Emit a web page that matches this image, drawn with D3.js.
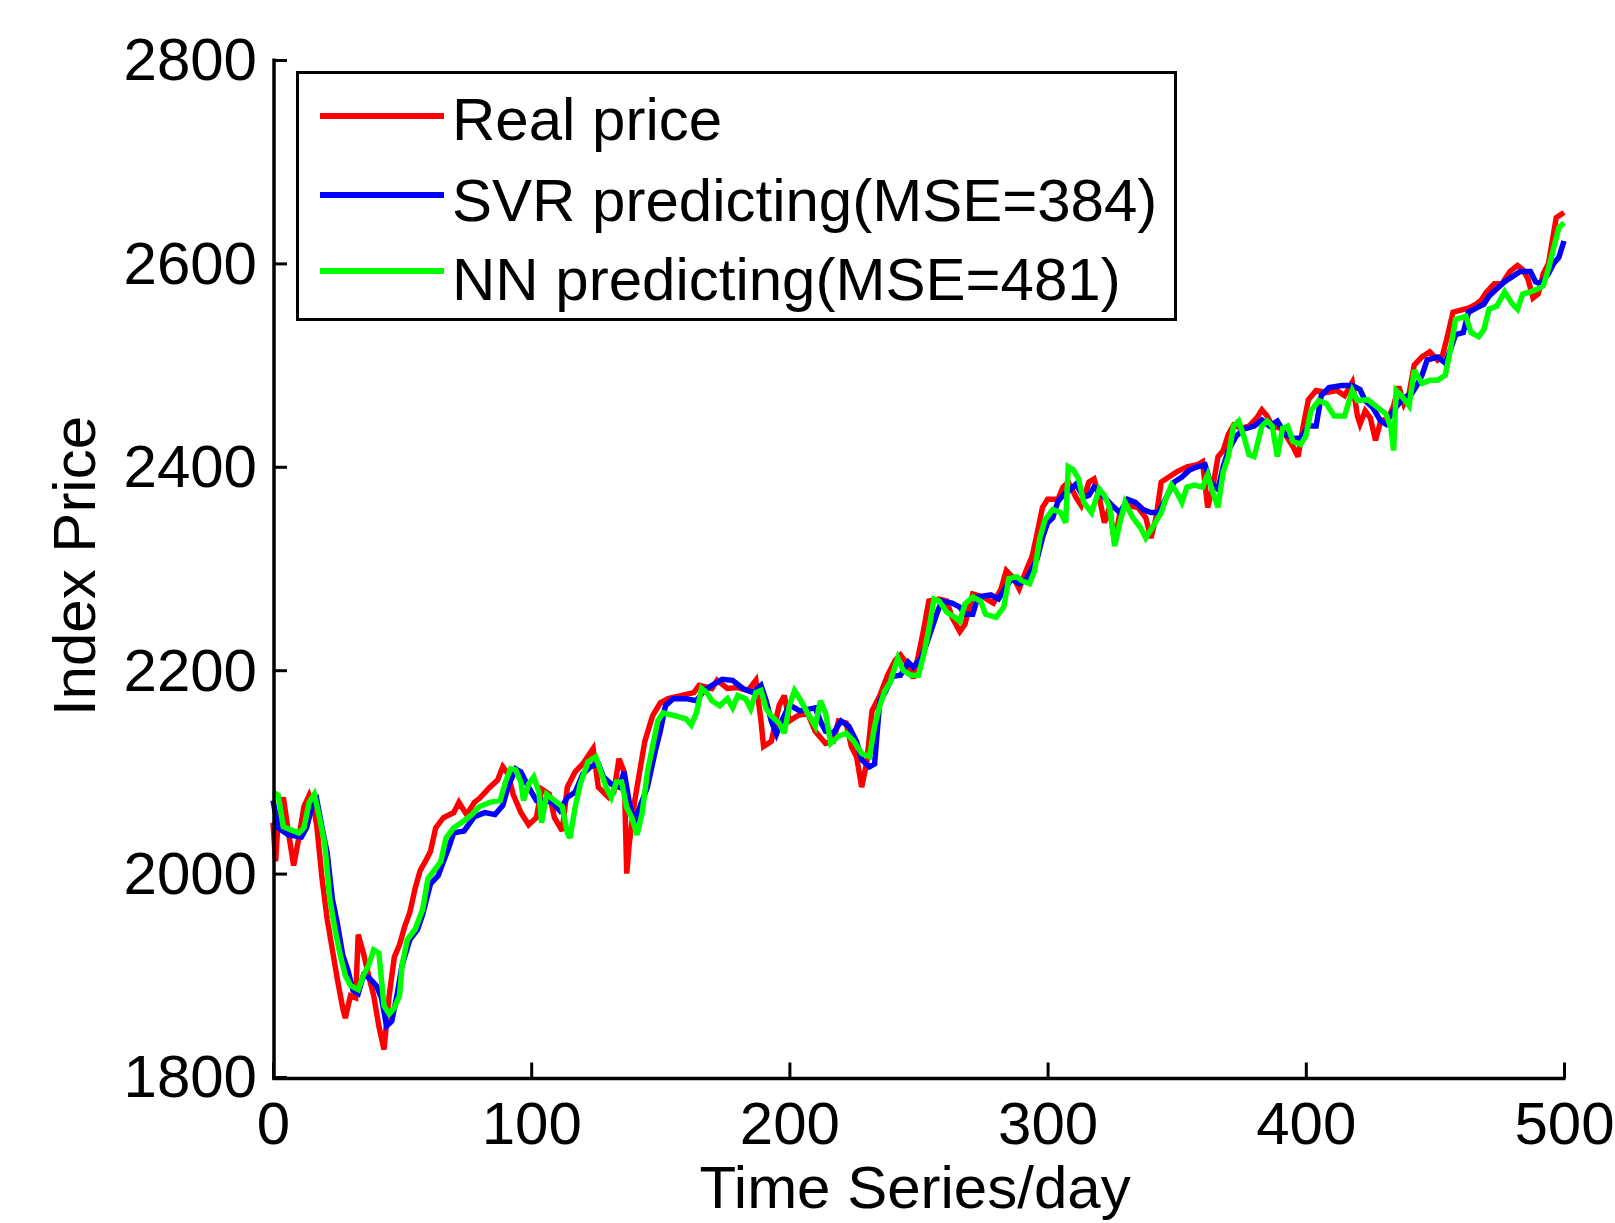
<!DOCTYPE html>
<html><head><meta charset="utf-8">
<script src="https://cdn.jsdelivr.net/npm/d3@7/dist/d3.min.js"></script>
<style>
html,body{margin:0;padding:0;background:#fff;}
svg text{font-family:"Liberation Sans",Arial,Helvetica,sans-serif;fill:#000;}
</style></head>
<body><svg id="chart" width="1615" height="1223"></svg>
<script>
// ---- data ----
const xTicks = [0, 100, 200, 300, 400, 500];
const yTicks = [1800, 2000, 2200, 2400, 2600, 2800];
const seriesNames = ["Real price", "SVR predicting(MSE=384)", "NN predicting(MSE=481)"];
const seriesColors = ["#ff0000", "#0000ff", "#00ff00"];

const realDays = [0,1,2,4,6,8,10,12,14,16,17,19,21,23,25,27,28,30,32,33,35,37,39,41,43,45,47,49,51,53,55,57,59,61,63,66,70,72,75,78,80,84,87,89,91,93,96,99,102,104,107,109,112,114,117,120,124,126,130,132,134,136,137,138,140,142,144,147,150,153,158,163,165,170,172,176,180,184,187,189,190,193,196,198,200,203,207,210,214,217,219,222,224,226,228,230,232,235,238,241,243,246,248,250,252,254,258,261,263,266,268,271,275,279,282,284,287,289,292,294,296,298,300,304,306,308,311,313,316,318,320,322,324,326,328,331,335,338,340,342,344,347,350,354,358,360,362,364,366,368,370,372,375,378,381,383,385,387,390,392,395,397,399,401,404,408,412,415,418,420,421,423,425,427,429,432,434,436,438,440,442,445,448,451,453,455,457,460,463,466,468,470,473,476,479,482,484,486,488,490,492,494,495,497,500];
const realPrice = [2050,2012,2052,2075,2040,2008,2035,2066,2077,2062,2046,1995,1955,1925,1895,1868,1858,1880,1878,1940,1922,1900,1880,1850,1827,1880,1918,1930,1948,1962,1985,2003,2012,2022,2045,2055,2060,2070,2058,2070,2074,2085,2092,2105,2098,2078,2060,2048,2055,2083,2078,2055,2042,2085,2100,2108,2123,2085,2075,2080,2113,2100,2000,2030,2070,2100,2130,2155,2168,2172,2175,2178,2185,2182,2190,2182,2183,2180,2190,2150,2125,2130,2165,2175,2150,2155,2158,2140,2128,2130,2150,2148,2125,2115,2085,2110,2160,2175,2195,2210,2215,2205,2192,2215,2240,2268,2270,2268,2252,2238,2245,2275,2272,2266,2280,2298,2290,2280,2300,2312,2335,2360,2368,2368,2380,2385,2370,2362,2385,2388,2370,2345,2360,2325,2355,2362,2360,2350,2330,2350,2385,2390,2395,2400,2402,2405,2360,2380,2410,2416,2432,2441,2438,2440,2448,2456,2450,2440,2438,2432,2420,2410,2440,2466,2475,2473,2475,2470,2483,2450,2442,2455,2448,2426,2445,2448,2460,2479,2462,2472,2500,2508,2513,2505,2510,2530,2552,2554,2556,2560,2564,2572,2580,2580,2592,2598,2594,2585,2566,2570,2590,2600,2615,2645,2650];

const svrDays = [0,2,6,11,13,15,17,19,21,23,25,27,29,31,33,35,37,40,42,44,46,48,50,53,56,58,61,64,66,68,70,74,78,82,86,89,91,94,96,99,102,105,108,111,114,117,120,123,126,128,131,134,136,138,140,142,145,148,150,152,155,160,164,167,170,174,178,182,186,189,191,193,195,197,200,204,208,210,212,214,217,220,223,226,228,231,233,235,237,240,243,246,248,251,253,255,257,259,263,266,268,271,273,278,281,284,286,289,292,294,296,298,300,302,304,306,309,311,314,316,318,320,322,325,328,331,334,337,340,343,346,349,352,355,358,361,363,366,368,370,373,376,380,383,386,389,392,395,398,401,404,406,409,414,418,421,423,426,429,431,433,436,438,441,443,445,447,451,454,456,458,461,463,466,469,471,474,477,480,483,487,489,491,494,496,498,500];
const svrPrice = [2072,2045,2038,2036,2045,2065,2072,2045,2020,1975,1950,1920,1905,1885,1882,1900,1898,1890,1878,1850,1855,1880,1910,1935,1945,1960,1990,1998,2012,2025,2040,2042,2056,2060,2058,2067,2085,2103,2100,2085,2072,2072,2070,2062,2075,2080,2098,2105,2108,2095,2088,2085,2100,2070,2050,2065,2085,2120,2140,2165,2172,2172,2170,2180,2185,2191,2190,2182,2178,2185,2170,2150,2137,2150,2166,2160,2162,2163,2150,2140,2138,2150,2145,2130,2112,2105,2108,2170,2178,2194,2195,2208,2203,2212,2225,2240,2255,2268,2266,2262,2255,2255,2272,2274,2270,2282,2290,2285,2290,2300,2310,2330,2345,2350,2366,2372,2378,2383,2370,2372,2380,2376,2370,2362,2355,2368,2365,2358,2355,2355,2370,2385,2390,2397,2400,2402,2385,2378,2400,2416,2430,2437,2440,2446,2440,2445,2432,2428,2428,2440,2440,2470,2478,2480,2480,2476,2465,2458,2445,2442,2452,2462,2468,2472,2480,2490,2505,2508,2502,2515,2530,2532,2552,2556,2560,2568,2575,2582,2587,2592,2592,2582,2580,2590,2600,2606,2622];

const nnDays = [0,2,4,7,10,12,14,16,18,20,22,24,26,28,30,33,35,37,39,41,43,45,47,49,50,52,55,58,60,63,65,67,70,74,77,80,84,88,90,92,94,96,97,99,101,103,104,106,109,112,114,115,117,119,122,125,127,129,131,133,135,137,139,141,143,145,147,149,151,156,160,162,164,166,168,170,173,176,178,180,183,185,187,189,191,193,196,198,200,202,204,207,210,212,214,216,219,222,225,228,231,233,235,237,239,242,244,247,250,252,254,256,258,261,264,266,268,271,274,276,280,283,285,288,290,293,295,297,299,302,305,307,308,310,312,314,317,320,322,324,326,328,330,333,336,338,341,344,346,348,350,352,354,357,360,362,364,366,368,370,372,374,376,378,380,383,385,387,389,391,393,395,398,400,402,405,408,411,415,418,420,424,428,431,433,434,435,437,440,442,445,448,451,454,456,458,462,464,467,469,471,474,477,480,482,484,487,490,492,494,496,498,500];
const nnPrice = [2080,2077,2046,2043,2040,2045,2070,2078,2055,2030,1975,1945,1920,1900,1890,1886,1900,1910,1925,1922,1870,1862,1868,1880,1910,1935,1945,1965,1995,2005,2012,2035,2045,2052,2058,2066,2070,2072,2090,2103,2102,2090,2072,2088,2095,2080,2050,2078,2072,2066,2040,2035,2065,2088,2110,2115,2100,2085,2075,2090,2090,2065,2055,2038,2060,2100,2125,2150,2158,2155,2152,2146,2158,2182,2178,2170,2165,2172,2163,2175,2172,2162,2178,2180,2162,2155,2148,2138,2165,2180,2172,2158,2145,2170,2158,2128,2135,2138,2130,2118,2115,2145,2165,2180,2188,2212,2200,2195,2195,2215,2240,2270,2268,2257,2252,2248,2265,2272,2268,2255,2252,2262,2290,2292,2288,2285,2298,2330,2348,2358,2355,2345,2400,2397,2388,2365,2355,2378,2372,2360,2322,2345,2365,2350,2340,2330,2342,2355,2370,2382,2375,2365,2380,2382,2380,2392,2375,2360,2395,2410,2440,2445,2430,2412,2410,2440,2445,2440,2410,2438,2440,2425,2422,2430,2455,2465,2462,2450,2450,2475,2465,2466,2458,2452,2438,2416,2475,2470,2460,2495,2482,2485,2485,2490,2515,2545,2548,2532,2528,2535,2555,2558,2572,2560,2555,2570,2572,2575,2578,2595,2615,2635,2640];

// ---- drawing ----
const svg = d3.select("#chart");
svg.append("rect").attr("width",1615).attr("height",1223).attr("fill","#fff");

const x = d3.scaleLinear().domain([0,500]).range([273,1564]);
const y = d3.scaleLinear().domain([1800,2800]).range([1077,60]);

const series = [
  {name: seriesNames[0], color: seriesColors[0], days: realDays, vals: realPrice},
  {name: seriesNames[1], color: seriesColors[1], days: svrDays, vals: svrPrice},
  {name: seriesNames[2], color: seriesColors[2], days: nnDays, vals: nnPrice}
];

const line = d3.line().x(d => x(d[0])).y(d => y(d[1]));
series.forEach(s => {
  svg.append("path")
    .datum(s.days.map((d,i) => [d, s.vals[i]]))
    .attr("d", line)
    .attr("fill","none")
    .attr("stroke", s.color)
    .attr("stroke-width", 5.5)
    .attr("stroke-linejoin","miter")
    .attr("stroke-miterlimit", 3);
});

// axes
const yAxis = d3.axisLeft(y).tickValues(yTicks).tickFormat(d3.format("d"))
  .tickSizeInner(-13).tickSizeOuter(0).tickPadding(17);
const xAxis = d3.axisBottom(x).tickValues(xTicks).tickFormat(d3.format("d"))
  .tickSizeInner(-16).tickSizeOuter(0).tickPadding(23);

const gy = svg.append("g").attr("transform","translate(274,0)").call(yAxis);
const gx = svg.append("g").attr("transform","translate(0,1078.5)").call(xAxis);
[gx, gy].forEach(g => {
  g.select(".domain").attr("stroke","#000").attr("stroke-width",3.5);
  g.selectAll(".tick line").attr("stroke","#000").attr("stroke-width",3);
  g.selectAll(".tick text").attr("font-size",60)
    .attr("font-family",'"Liberation Sans",Arial,sans-serif').attr("fill","#000");
});
gy.select(".domain").attr("d","M0,58.5V1080");
gx.select(".domain").attr("d","M272.5,0H1565.5");
gy.selectAll(".tick text").attr("dy","0.33em");

// axis titles
svg.append("text").attr("x",915).attr("y",1208).attr("text-anchor","middle")
  .attr("font-size",60).text("Time Series/day");
svg.append("text").attr("transform","translate(95,566) rotate(-90)")
  .attr("text-anchor","middle").attr("font-size",60).text("Index Price");

// legend
const lg = svg.append("g");
lg.append("rect").attr("x",297.5).attr("y",72.5).attr("width",878).attr("height",247)
  .attr("fill","#fff").attr("stroke","#000").attr("stroke-width",3);
const legY = [116, 195, 271];
const legTextY = [140, 221, 300];
series.forEach((s,i) => {
  lg.append("line").attr("x1",320).attr("x2",444).attr("y1",legY[i]).attr("y2",legY[i])
    .attr("stroke", s.color).attr("stroke-width",6);
  lg.append("text").attr("x",452).attr("y",legTextY[i]).attr("font-size",60).text(s.name);
});
</script></body></html>
